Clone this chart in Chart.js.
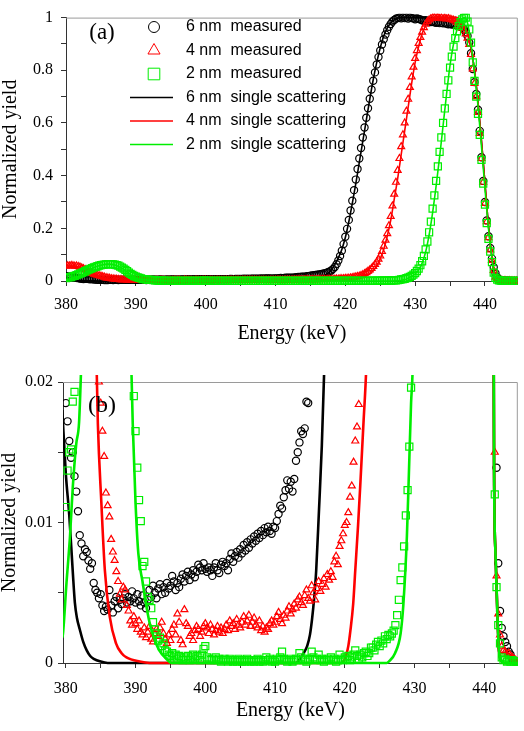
<!DOCTYPE html>
<html>
<head>
<meta charset="utf-8">
<script src="https://cdn.jsdelivr.net/npm/chart.js@4.4.1/dist/chart.umd.min.js"></script>
<style>
  html, body { margin: 0; padding: 0; background: #fff; }
  #wrap { position: relative; width: 524px; height: 731px; }
  .panel { position: absolute; left: 0; width: 524px; }
  #boxA { top: 0; height: 360px; }
  #boxB { top: 360px; height: 371px; }
</style>
</head>
<body>
<div id="wrap">
  <div class="panel" id="boxA"><canvas id="chartA"></canvas></div>
  <div class="panel" id="boxB"><canvas id="chartB"></canvas></div>
</div>
<script>
// Measurement channels (keV), shared by the three measured spectra
const energy = [
  380, 380.25, 380.5, 380.75,  381, 381.25, 381.5, 381.75,
  382, 382.25, 382.5, 382.75,  383, 383.25, 383.5, 383.75,
  384, 384.25, 384.5, 384.75,  385, 385.25, 385.5, 385.75,
  386, 386.25, 386.5, 386.75,  387, 387.25, 387.5, 387.75,
  388, 388.25, 388.5, 388.75,  389, 389.25, 389.5, 389.75,
  390, 390.25, 390.5, 390.75,  391, 391.25, 391.5, 391.75,
  392, 392.25, 392.5, 392.75,  393, 393.25, 393.5, 393.75,
  394, 394.25, 394.5, 394.75,  395, 395.25, 395.5, 395.75,
  396, 396.25, 396.5, 396.75,  397, 397.25, 397.5, 397.75,
  398, 398.25, 398.5, 398.75,  399, 399.25, 399.5, 399.75,
  400, 400.25, 400.5, 400.75,  401, 401.25, 401.5, 401.75,
  402, 402.25, 402.5, 402.75,  403, 403.25, 403.5, 403.75,
  404, 404.25, 404.5, 404.75,  405, 405.25, 405.5, 405.75,
  406, 406.25, 406.5, 406.75,  407, 407.25, 407.5, 407.75,
  408, 408.25, 408.5, 408.75,  409, 409.25, 409.5, 409.75,
  410, 410.25, 410.5, 410.75,  411, 411.25, 411.5, 411.75,
  412, 412.25, 412.5, 412.75,  413, 413.25, 413.5, 413.75,
  414, 414.25, 414.5, 414.75,  415, 415.25, 415.5, 415.75,
  416, 416.25, 416.5, 416.75,  417, 417.25, 417.5, 417.75,
  418, 418.25, 418.5, 418.75,  419, 419.25, 419.5, 419.75,
  420, 420.25, 420.5, 420.75,  421, 421.25, 421.5, 421.75,
  422, 422.25, 422.5, 422.75,  423, 423.25, 423.5, 423.75,
  424, 424.25, 424.5, 424.75,  425, 425.25, 425.5, 425.75,
  426, 426.25, 426.5, 426.75,  427, 427.25, 427.5, 427.75,
  428, 428.25, 428.5, 428.75,  429, 429.25, 429.5, 429.75,
  430, 430.25, 430.5, 430.75,  431, 431.25, 431.5, 431.75,
  432, 432.25, 432.5, 432.75,  433, 433.25, 433.5, 433.75,
  434, 434.25, 434.5, 434.75,  435, 435.25, 435.5, 435.75,
  436, 436.25, 436.5, 436.75,  437, 437.25, 437.5, 437.75,
  438, 438.25, 438.5, 438.75,  439, 439.25, 439.5, 439.75,
  440, 440.25, 440.5, 440.75,  441, 441.25, 441.5, 441.75,
  442, 442.25, 442.5, 442.75,  443, 443.25, 443.5, 443.75,
  444, 444.25, 444.5, 444.75,  445
];

// 6 nm measured
const meas6 = [
  0.0185, 0.0172, 0.0158, 0.0146,  0.0150, 0.0133, 0.0122, 0.0108,
  0.0091, 0.0085, 0.0076, 0.0081,  0.0079, 0.0073, 0.0067, 0.0071,
  0.0057, 0.0052, 0.0050, 0.0046,  0.0049, 0.0041, 0.0037, 0.0040,
  0.0038, 0.0052, 0.0041, 0.0036,  0.0044, 0.0047, 0.0039, 0.0045,
  0.0042, 0.0046, 0.0049, 0.0043,  0.0047, 0.0044, 0.0051, 0.0046,
  0.0043, 0.0049, 0.0044, 0.0041,  0.0048, 0.0043, 0.0039, 0.0045,
  0.0052, 0.0047, 0.0055, 0.0050,  0.0046, 0.0053, 0.0056, 0.0049,
  0.0054, 0.0050, 0.0057, 0.0053,  0.0055, 0.0062, 0.0058, 0.0052,
  0.0057, 0.0054, 0.0060, 0.0063,  0.0058, 0.0062, 0.0065, 0.0059,
  0.0063, 0.0066, 0.0061, 0.0065,  0.0070, 0.0068, 0.0066, 0.0071,
  0.0067, 0.0065, 0.0068, 0.0066,  0.0062, 0.0068, 0.0071, 0.0066,
  0.0064, 0.0070, 0.0072, 0.0069,  0.0071, 0.0066, 0.0074, 0.0078,
  0.0072, 0.0076, 0.0079, 0.0075,  0.0081, 0.0078, 0.0084, 0.0080,
  0.0086, 0.0082, 0.0088, 0.0085,  0.0090, 0.0087, 0.0092, 0.0089,
  0.0094, 0.0091, 0.0096, 0.0093,  0.0097, 0.0094, 0.0092, 0.0097,
  0.0096, 0.0101, 0.0106, 0.0112,  0.0110, 0.0118, 0.0123, 0.0130,
  0.0124, 0.0129, 0.0122, 0.0131,  0.0144, 0.0150, 0.0157, 0.0165,
  0.0163, 0.0167, 0.0186, 0.0185,  0.0205, 0.0210, 0.0220, 0.0230,
  0.0240, 0.0250, 0.0260, 0.0280,  0.029, 0.031, 0.033, 0.036,
  0.040, 0.046, 0.053, 0.064,  0.078, 0.095, 0.115, 0.140,
  0.168, 0.198, 0.232, 0.268,  0.305, 0.345, 0.385, 0.425,
  0.465, 0.505, 0.545, 0.583,  0.620, 0.656, 0.692, 0.727,
  0.760, 0.792, 0.822, 0.850,  0.875, 0.898, 0.918, 0.936,
  0.952, 0.965, 0.976, 0.985,  0.991, 0.996, 0.998, 1.000,
  0.997, 1.000, 0.998, 1.000,  0.996, 1.000, 0.998, 0.997,
  0.994, 0.997, 0.995, 0.993,  0.990, 0.988, 0.990, 0.986,
  0.985, 0.983, 0.985, 0.982,  0.980, 0.982, 0.979, 0.980,
  0.978, 0.980, 0.977, 0.975,  0.976, 0.974, 0.975, 0.972,
  0.970, 0.968, 0.966, 0.962,  0.955, 0.945, 0.930, 0.905,
  0.865, 0.805, 0.755, 0.710,  0.650, 0.570, 0.470, 0.380,
  0.300, 0.230, 0.170, 0.125,  0.085, 0.052, 0.030, 0.0139,
  0.0071, 0.0037, 0.0025, 0.0019,  0.0015, 0.0012, 0.0008, 0.0006,
  0.0003, 0.0002, 0.0001, 0.0001,  0.0001
];

// 4 nm measured
const meas4 = [
  0.056, 0.058, 0.057, 0.059,  0.058, 0.056, 0.057, 0.055,
  0.053, 0.050, 0.047, 0.043,  0.040, 0.036, 0.032, 0.029,
  0.026, 0.024, 0.022, 0.020,  0.0185, 0.0165, 0.0147, 0.0121,
  0.0112, 0.0104, 0.0088, 0.0079,  0.0073, 0.0065, 0.0058, 0.0049,
  0.0045, 0.0054, 0.0052, 0.0041,  0.0037, 0.0030, 0.0027, 0.0033,
  0.0028, 0.0024, 0.0030, 0.0022,  0.0020, 0.0025, 0.0018, 0.0022,
  0.0026, 0.0017, 0.0015, 0.0021,  0.0024, 0.0019, 0.0025, 0.0029,
  0.0021, 0.0017, 0.0014, 0.0020,  0.0016, 0.0024, 0.0027, 0.0020,
  0.0035, 0.0029, 0.0016, 0.0013,  0.0038, 0.0028, 0.0026, 0.0019,
  0.0021, 0.0016, 0.0023, 0.0026,  0.0024, 0.0019, 0.0022, 0.0026,
  0.0028, 0.0025, 0.0021, 0.0027,  0.0024, 0.0020, 0.0023, 0.0026,
  0.0022, 0.0025, 0.0021, 0.0024,  0.0027, 0.0023, 0.0030, 0.0026,
  0.0028, 0.0024, 0.0031, 0.0027,  0.0025, 0.0029, 0.0033, 0.0027,
  0.0030, 0.0034, 0.0026, 0.0029,  0.0032, 0.0027, 0.0025, 0.0030,
  0.0023, 0.0026, 0.0022, 0.0025,  0.0024, 0.0028, 0.0030, 0.0027,
  0.0029, 0.0033, 0.0036, 0.0031,  0.0028, 0.0034, 0.0032, 0.0037,
  0.0040, 0.0035, 0.0038, 0.0042,  0.0039, 0.0045, 0.0047, 0.0043,
  0.0041, 0.0048, 0.0052, 0.0046,  0.0044, 0.0055, 0.0050, 0.0045,
  0.0053, 0.0058, 0.0051, 0.0056,  0.0060, 0.0054, 0.0063, 0.0059,
  0.0065, 0.0061, 0.0072, 0.0076,  0.0070, 0.0083, 0.0087, 0.0092,
  0.0098, 0.0100, 0.0107, 0.0118,  0.0126, 0.0143, 0.0158, 0.0168,
  0.0184, 0.021, 0.024, 0.028,  0.032, 0.037, 0.042, 0.048,
  0.055, 0.063, 0.072, 0.083,  0.095, 0.112, 0.132, 0.155,
  0.180, 0.210, 0.245, 0.285,  0.330, 0.375, 0.420, 0.465,
  0.510, 0.555, 0.600, 0.645,  0.690, 0.735, 0.775, 0.812,
  0.845, 0.875, 0.902, 0.925,  0.945, 0.962, 0.975, 0.985,
  0.991, 0.996, 0.999, 1.000,  0.998, 1.000, 0.997, 0.999,
  0.996, 0.998, 0.995, 0.997,  0.994, 0.992, 0.990, 0.987,
  0.982, 0.976, 0.968, 0.960,  0.950, 0.938, 0.922, 0.898,
  0.860, 0.805, 0.750, 0.700,  0.640, 0.560, 0.465, 0.375,
  0.295, 0.225, 0.165, 0.118,  0.078, 0.040, 0.0150, 0.0062,
  0.0035, 0.0020, 0.0012, 0.0009,  0.0008, 0.0006, 0.0007, 0.0005,
  0.0004, 0.0003, 0.0002, 0.0001,  0.0001
];

// 2 nm measured
const meas2 = [
  0.0111, 0.0137, 0.0150, 0.0152,  0.0186, 0.0193, 0.022, 0.025,
  0.028, 0.031, 0.034, 0.037,  0.040, 0.043, 0.046, 0.049,
  0.052, 0.054, 0.056, 0.058,  0.060, 0.061, 0.062, 0.063,
  0.064, 0.064, 0.064, 0.063,  0.062, 0.060, 0.058, 0.055,
  0.051, 0.047, 0.042, 0.037,  0.032, 0.027, 0.023, 0.019,
  0.0165, 0.0139, 0.0116, 0.0101,  0.0069, 0.0072, 0.0058, 0.0047,
  0.0045, 0.0039, 0.0029, 0.0024,  0.0021, 0.0016, 0.0018, 0.0012,
  0.0014, 0.0009, 0.0008, 0.0006,  0.0005, 0.0007, 0.0004, 0.0006,
  0.0003, 0.0005, 0.0004, 0.0002,  0.0004, 0.0003, 0.0005, 0.0002,
  0.0004, 0.0006, 0.0003, 0.0005,  0.0004, 0.0002, 0.0006, 0.0010,
  0.0012, 0.0004, 0.0003, 0.0002,  0.0003, 0.0002, 0.0004, 0.0002,
  0.0003, 0.0001, 0.0002, 0.0003,  0.0002, 0.0001, 0.0003, 0.0002,
  0.0001, 0.0002, 0.0001, 0.0003,  0.0002, 0.0001, 0.0002, 0.0001,
  0.0003, 0.0002, 0.0001, 0.0002,  0.0001, 0.0002, 0.0003, 0.0001,
  0.0002, 0.0001, 0.0002, 0.0004,  0.0002, 0.0003, 0.0001, 0.0002,
  0.0001, 0.0003, 0.0002, 0.0004,  0.0008, 0.0003, 0.0002, 0.0001,
  0.0002, 0.0003, 0.0001, 0.0002,  0.0003, 0.0002, 0.0007, 0.0004,
  0.0002, 0.0003, 0.0001, 0.0002,  0.0003, 0.0008, 0.0004, 0.0002,
  0.0003, 0.0006, 0.0002, 0.0003,  0.0001, 0.0002, 0.0003, 0.0002,
  0.0004, 0.0002, 0.0003, 0.0001,  0.0002, 0.0006, 0.0003, 0.0002,
  0.0004, 0.0003, 0.0005, 0.0002,  0.0004, 0.0006, 0.0009, 0.0005,
  0.0003, 0.0006, 0.0004, 0.0007,  0.0008, 0.0005, 0.0007, 0.0011,
  0.0011, 0.0009, 0.0013, 0.0015,  0.0012, 0.0016, 0.0014, 0.0019,
  0.0017, 0.0020, 0.0019, 0.0021,  0.0023, 0.0027, 0.0034, 0.0045,
  0.0059, 0.0068, 0.0083, 0.0105,  0.0123, 0.0154, 0.0196, 0.024,
  0.030, 0.038, 0.047, 0.060,  0.075, 0.095, 0.120, 0.150,
  0.185, 0.225, 0.275, 0.325,  0.380, 0.435, 0.490, 0.545,
  0.600, 0.655, 0.710, 0.762,  0.810, 0.852, 0.890, 0.922,
  0.948, 0.968, 0.983, 0.993,  0.999, 1.000, 0.985, 0.955,
  0.905, 0.830, 0.760, 0.700,  0.635, 0.555, 0.460, 0.370,
  0.290, 0.220, 0.160, 0.112,  0.072, 0.032, 0.0120, 0.0054,
  0.0027, 0.0014, 0.0004, 0.0002,  0.0003, 0.0001, 0.0002, 0.0001,
  0.0002, 0.0001, 0.0001, 0.0001,  0.0001
];

// Single scattering simulations
const ss6E = [379.5, 380, 380.5, 381, 381.3, 381.6, 382, 382.5, 383, 383.5, 384, 385, 386,
  413, 413.7, 414.2, 414.6, 415, 415.3, 415.6, 415.9, 416.3, 416.7, 417, 417.5, 418, 418.5,
  419, 419.5, 420, 420.5, 421, 421.5, 422, 422.5, 423, 423.5, 424, 424.5, 425, 425.5, 426,
  426.5, 427, 428, 436, 436.5, 437, 437.5, 438, 438.5, 439, 439.5, 440, 440.5, 441, 441.3,
  441.4, 441.6, 441.9, 442.1, 442.4, 442.8, 445];
const ss6 = [0.018, 0.0135, 0.0105, 0.0065, 0.0043, 0.0032, 0.0024, 0.0015, 0.0009, 0.0005, 0.0003, 0.0001, 0,
  0, 0.0004, 0.0008, 0.0012, 0.0020, 0.0031, 0.0046, 0.0066, 0.0109, 0.0154, 0.0201, 0.029, 0.042, 0.062,
  0.088, 0.12, 0.165, 0.225, 0.295, 0.37, 0.45, 0.53, 0.61, 0.69, 0.765, 0.83, 0.885, 0.93, 0.96,
  0.98, 0.992, 1.0, 1.0, 0.99, 0.97, 0.94, 0.885, 0.8, 0.68, 0.53, 0.37, 0.21, 0.09, 0.03,
  0.0137, 0.0078, 0.0031, 0.0009, 0.0002, 0, 0];

const ss4E = [379.5, 380, 381, 382, 383, 383.5, 384, 384.4, 384.6, 385.1, 385.6, 386.3, 387.2,
  388, 388.7, 390.6, 392, 419.5, 420.1, 420.5, 420.8, 421.2, 421.5, 421.9, 422.2, 422.7, 423,
  423.5, 424, 424.5, 425, 425.5, 426, 426.5, 427, 427.5, 428, 428.5, 429, 429.5, 430, 430.5,
  431, 431.5, 432, 433, 436, 436.5, 437, 437.5, 438, 438.5, 439, 439.5, 440, 440.5, 441,
  441.3, 441.4, 441.6, 441.9, 442.1, 442.4, 442.8, 445];
const ss4 = [0.057, 0.057, 0.056, 0.052, 0.040, 0.032, 0.026, 0.0215, 0.017, 0.0114, 0.0066, 0.0033, 0.0014,
  0.0007, 0.0004, 0.0001, 0, 0, 0.0004, 0.0012, 0.0023, 0.0042, 0.0066, 0.0098, 0.0125, 0.0173, 0.0201,
  0.027, 0.040, 0.058, 0.085, 0.12, 0.17, 0.23, 0.31, 0.39, 0.48, 0.57, 0.66, 0.75, 0.83, 0.89,
  0.94, 0.97, 0.99, 1.0, 1.0, 0.99, 0.97, 0.94, 0.885, 0.8, 0.68, 0.53, 0.37, 0.21, 0.09,
  0.03, 0.0137, 0.0078, 0.0031, 0.0009, 0.0002, 0, 0];

const ss2E = [379.5, 379.6, 380.1, 380.6, 381, 381.5, 381.9, 382.2, 382.5, 383, 384, 385, 386,
  387, 388, 388.5, 389, 389.3, 389.6, 390, 390.4, 391, 391.5, 392, 392.7, 393.4, 394.4, 395.2,
  426, 426.3, 427.2, 428, 428.4, 428.9, 429.2, 429.5, 429.7, 430, 430.5, 431, 431.5, 432,
  432.5, 433, 433.5, 434, 434.5, 435, 435.5, 436, 436.5, 437, 437.5, 438, 438.5, 439, 439.5,
  440, 440.5, 441, 441.3, 441.4, 441.6, 441.9, 442.1, 442.4, 442.8, 445];
const ss2 = [0.0018, 0.0021, 0.0057, 0.009, 0.0125, 0.0156, 0.0171, 0.021, 0.026, 0.036, 0.051, 0.060, 0.064,
  0.061, 0.049, 0.040, 0.030, 0.023, 0.017, 0.0114, 0.0078, 0.0058, 0.0042, 0.0029, 0.0017, 0.0009, 0.0003, 0,
  0, 0.0001, 0.0007, 0.0021, 0.0042, 0.009, 0.0137, 0.0185, 0.0205, 0.027, 0.042, 0.068, 0.11, 0.175,
  0.26, 0.36, 0.47, 0.59, 0.71, 0.82, 0.9, 0.955, 0.985, 1.0, 0.98, 0.9, 0.79, 0.665, 0.51,
  0.35, 0.2, 0.085, 0.03, 0.0137, 0.0078, 0.0031, 0.0009, 0.0002, 0, 0];

const seriesLabels = [
  '6 nm  measured', '4 nm  measured', '2 nm  measured',
  '6 nm  single scattering', '4 nm  single scattering', '2 nm  single scattering'
];

const SERIF = "'Liberation Serif', 'Times New Roman', serif";
const SANS = "'Liberation Sans', Arial, sans-serif";
const AXIS = '#333333';
const FRAME = '#9a9a9a';
const GREEN = '#00ee00';

function pts(xs, ys) {
  return xs.map((x, i) => ({ x, y: ys[i] }));
}

function fmt(v) {
  return String(Number(v.toFixed(4)));
}

function isStep(v, step) {
  const r = v / step;
  return Math.abs(r - Math.round(r)) < 1e-6;
}

// grey frame on the top and right sides of the plot
const framePlugin = {
  id: 'frame',
  beforeDatasetsDraw(chart) {
    const { ctx, chartArea: a } = chart;
    ctx.save();
    ctx.strokeStyle = FRAME;
    ctx.lineWidth = 1;
    ctx.beginPath();
    ctx.moveTo(a.left, a.top + 0.5);
    ctx.lineTo(a.right - 0.5, a.top + 0.5);
    ctx.lineTo(a.right - 0.5, a.bottom);
    ctx.stroke();
    ctx.restore();
  }
};

// panel letter, (a) / (b)
const tagPlugin = {
  id: 'panelTag',
  afterDatasetsDraw(chart, args, opts) {
    if (!opts.text) return;
    const ctx = chart.ctx;
    ctx.save();
    ctx.font = `${opts.size}px ${SERIF}`;
    ctx.fillStyle = '#000';
    ctx.textAlign = 'center';
    ctx.textBaseline = 'middle';
    ctx.fillText(opts.text, opts.x, opts.y);
    ctx.restore();
  }
};

// legend listed inside the plot area, one row per series
const insideLegend = {
  id: 'insideLegend',
  afterDatasetsDraw(chart, args, opts) {
    if (!opts.show) return;
    const ctx = chart.ctx;
    const items = chart.data.datasets.filter(d => d.legendRow !== undefined)
      .sort((a, b) => a.legendRow - b.legendRow);
    ctx.save();
    items.forEach(ds => {
      const y = opts.top + ds.legendRow * opts.rowStep;
      if (ds.showLine) {
        ctx.strokeStyle = ds.borderColor;
        ctx.lineWidth = opts.lineWidth;
        ctx.beginPath();
        ctx.moveTo(opts.lineX0, y);
        ctx.lineTo(opts.lineX1, y);
        ctx.stroke();
      } else {
        ctx.strokeStyle = ds.pointBorderColor;
        ctx.fillStyle = 'rgba(0,0,0,0)';
        Chart.helpers.drawPoint(ctx, {
          pointStyle: ds.pointStyle,
          radius: opts.markerRadius[ds.pointStyle],
          rotation: 0,
          borderWidth: 1.8
        }, opts.markerX, y);
      }
      ctx.fillStyle = '#000';
      ctx.font = `16px ${SANS}`;
      ctx.textAlign = 'left';
      ctx.textBaseline = 'middle';
      ctx.fillText(ds.label, opts.textX, y);
    });
    ctx.restore();
  }
};

function makeDatasets(p) {
  const marker = (label, ys, color, style, radius, order, row) => ({
    label,
    data: pts(energy, ys),
    showLine: false,
    pointStyle: style,
    pointRadius: radius,
    pointBorderColor: color,
    borderColor: color,
    pointBackgroundColor: 'rgba(0,0,0,0)',
    pointBorderWidth: 1.2,
    order,
    legendRow: row,
    clip: p.markerClip
  });
  const line = (label, xs, ys, color, order, row) => ({
    label,
    data: pts(xs, ys),
    showLine: true,
    pointRadius: 0,
    borderColor: color,
    borderWidth: p.lineWidth,
    cubicInterpolationMode: 'monotone',
    fill: false,
    order,
    legendRow: row,
    clip: p.lineClip
  });
  return [
    line(seriesLabels[5], ss2E, ss2, GREEN, 0, 5),
    marker(seriesLabels[2], meas2, GREEN, 'rect', 5, 1, 2),
    line(seriesLabels[4], ss4E, ss4, '#ff0000', 2, 4),
    marker(seriesLabels[1], meas4, '#ff0000', 'triangle', 4, 3, 1),
    line(seriesLabels[3], ss6E, ss6, '#000000', 4, 3),
    marker(seriesLabels[0], meas6, '#000000', 'circle', 3.6, 5, 0)
  ];
}

function makeChart(canvasId, p) {
  return new Chart(document.getElementById(canvasId), {
    type: 'scatter',
    data: { datasets: makeDatasets(p) },
    plugins: [framePlugin, tagPlugin, insideLegend],
    options: {
      responsive: true,
      maintainAspectRatio: false,
      animation: false,
      events: [],
      layout: { padding: p.padding },
      plugins: {
        legend: { display: false },
        tooltip: { enabled: false },
        panelTag: p.tag,
        insideLegend: p.legend
      },
      scales: {
        x: {
          type: 'linear',
          min: p.xMin,
          max: p.xMax,
          afterFit: s => { s.height = p.xBoxHeight; },
          border: { color: AXIS, width: 1 },
          grid: { drawOnChartArea: false, color: AXIS, tickColor: AXIS, tickLength: 5 },
          ticks: {
            stepSize: 5,
            includeBounds: false,
            autoSkip: false,
            maxRotation: 0,
            padding: p.xTickPad,
            color: '#000',
            font: { family: SERIF, size: 16 },
            callback: v => (isStep(v, 10) ? fmt(v) : '')
          },
          title: {
            display: true,
            text: 'Energy (keV)',
            color: '#000',
            font: { family: SERIF, size: 20, lineHeight: 1.2 },
            padding: 0
          }
        },
        y: {
          type: 'linear',
          min: 0,
          max: p.yMax,
          afterFit: s => { s.width = p.yBoxWidth; },
          border: { color: AXIS, width: 1 },
          grid: { drawOnChartArea: false, color: AXIS, tickColor: AXIS, tickLength: 5 },
          ticks: {
            stepSize: p.yStep,
            includeBounds: false,
            autoSkip: false,
            padding: p.yTickPad,
            color: '#000',
            font: { family: SERIF, size: 16 },
            callback: v => (isStep(v, p.yLabelStep) ? fmt(v) : '')
          },
          title: {
            display: true,
            text: 'Normalized yield',
            color: '#000',
            font: { family: SERIF, size: 20, lineHeight: p.yTitleLH },
            padding: 0
          }
        }
      }
    }
  });
}

// (a) full scale
makeChart('chartA', {
  padding: { top: 11, right: 4, bottom: 14, left: 0 },
  xMin: 380, xMax: 444.7, xBoxHeight: 65, xTickPad: 9,
  yMax: 1, yStep: 0.1, yLabelStep: 0.2, yBoxWidth: 66, yTickPad: 8, yTitleLH: 1.1,
  lineWidth: 1.6,
  markerClip: { left: 0, top: 4, right: 0, bottom: 4 },
  lineClip: { left: 0, top: 2, right: 0, bottom: 2 },
  tag: { text: '(a)', size: 23, x: 102, y: 33 },
  legend: {
    show: true, top: 27, rowStep: 23.5, markerX: 154, textX: 186,
    lineX0: 130, lineX1: 173, lineWidth: 1.6,
    markerRadius: { circle: 5.5, triangle: 7, rect: 8.2 }
  }
});

// (b) magnified low-yield region
makeChart('chartB', {
  padding: { top: 22, right: 4, bottom: 8, left: 0 },
  xMin: 379.6, xMax: 444.8, xBoxHeight: 60, xTickPad: 11,
  yMax: 0.02, yStep: 0.005, yLabelStep: 0.01, yBoxWidth: 63, yTickPad: 5, yTitleLH: 1.0,
  lineWidth: 2.6,
  markerClip: { left: 0, top: 0, right: 0, bottom: 4 },
  lineClip: { left: 0, top: 7, right: 0, bottom: 2 },
  tag: { text: '(b)', size: 24, x: 102, y: 46 },
  legend: { show: false }
});
</script>
</body>
</html>
